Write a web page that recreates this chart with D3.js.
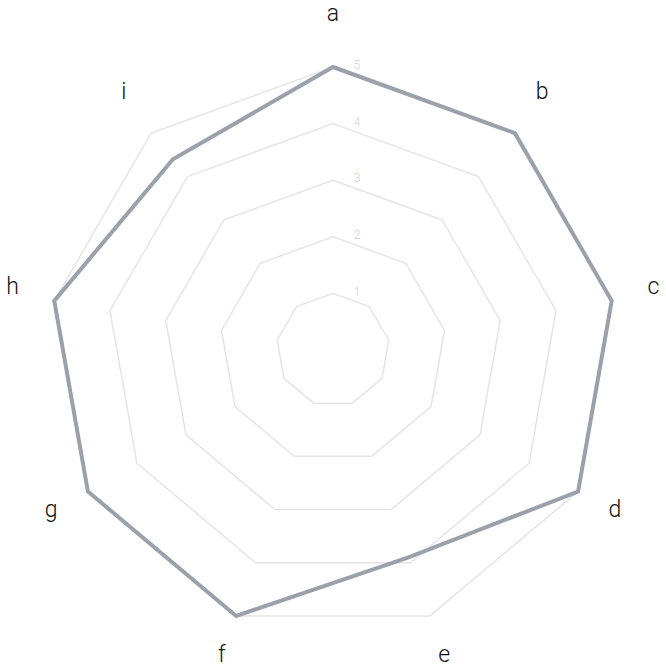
<!DOCTYPE html>
<html>
<head>
<meta charset="utf-8">
<script src="https://cdn.jsdelivr.net/npm/d3@7"></script>
<style>
  html, body { margin: 0; padding: 0; background: #fff; }
  svg { display: block; }
</style>
</head>
<body>
<script>
const categories = ["a", "b", "c", "d", "e", "f", "g", "h", "i"];
const values = [5, 5, 5, 5, 3.9, 5, 5, 5, 4.4];
const levels = [1, 2, 3, 4, 5];
const levelLabels = ["1", "2", "3", "4", "5"];

const W = 666, H = 668;
const cx = 333, cy = 350;

const svg = d3.select("body").append("svg").attr("width", W).attr("height", H);
const g = svg.append("g").attr("transform", `translate(${cx},${cy})`);

const r = d3.scaleLinear().domain([0, 5]).range([0, 283]);
const angle = d3.scaleLinear().domain([0, categories.length]).range([0, 2 * Math.PI]);

const pt = (i, v) => [r(v) * Math.sin(angle(i)), -r(v) * Math.cos(angle(i))];

const line = d3.line().curve(d3.curveLinearClosed);

// grid
g.selectAll("path.grid").data(levels).enter().append("path")
  .attr("class", "grid")
  .attr("d", lv => line(categories.map((c, i) => pt(i, lv))))
  .attr("fill", "none")
  .attr("stroke", "#e5e5e5")
  .attr("stroke-width", 1.5);

// level labels
g.selectAll("text.lvl").data(levels).enter().append("text")
  .attr("class", "lvl")
  .attr("x", 24)
  .attr("y", lv => -r(lv) - 2)
  .attr("dy", "0.35em")
  .attr("text-anchor", "middle")
  .attr("font-family", "Roboto, 'Open Sans', sans-serif")
  .attr("font-weight", 300)
  .attr("font-size", 12)
  .attr("fill", "#cfcfcf")
  .text((lv, i) => levelLabels[i]);

// data
g.append("path")
  .attr("d", line(values.map((v, i) => pt(i, v))))
  .attr("fill", "none")
  .attr("stroke", "#9aa1ab")
  .attr("stroke-width", 4)
  .attr("stroke-linejoin", "miter");

// axis labels
const Rx = r(5) * 1.15;
const Ry = r(5) * 1.167;
g.selectAll("text.ax").data(categories).enter().append("text")
  .attr("class", "ax")
  .attr("x", (c, i) => Rx * Math.sin(angle(i)))
  .attr("y", (c, i) => -Ry * Math.cos(angle(i)) - 6.4)
  .attr("dy", "0.35em")
  .attr("text-anchor", "middle")
  .attr("font-family", "Roboto, 'Open Sans', sans-serif")
  .attr("font-weight", 300)
  .attr("font-size", 23)
  .attr("fill", "#111")
  .text(c => c);
</script>
</body>
</html>
